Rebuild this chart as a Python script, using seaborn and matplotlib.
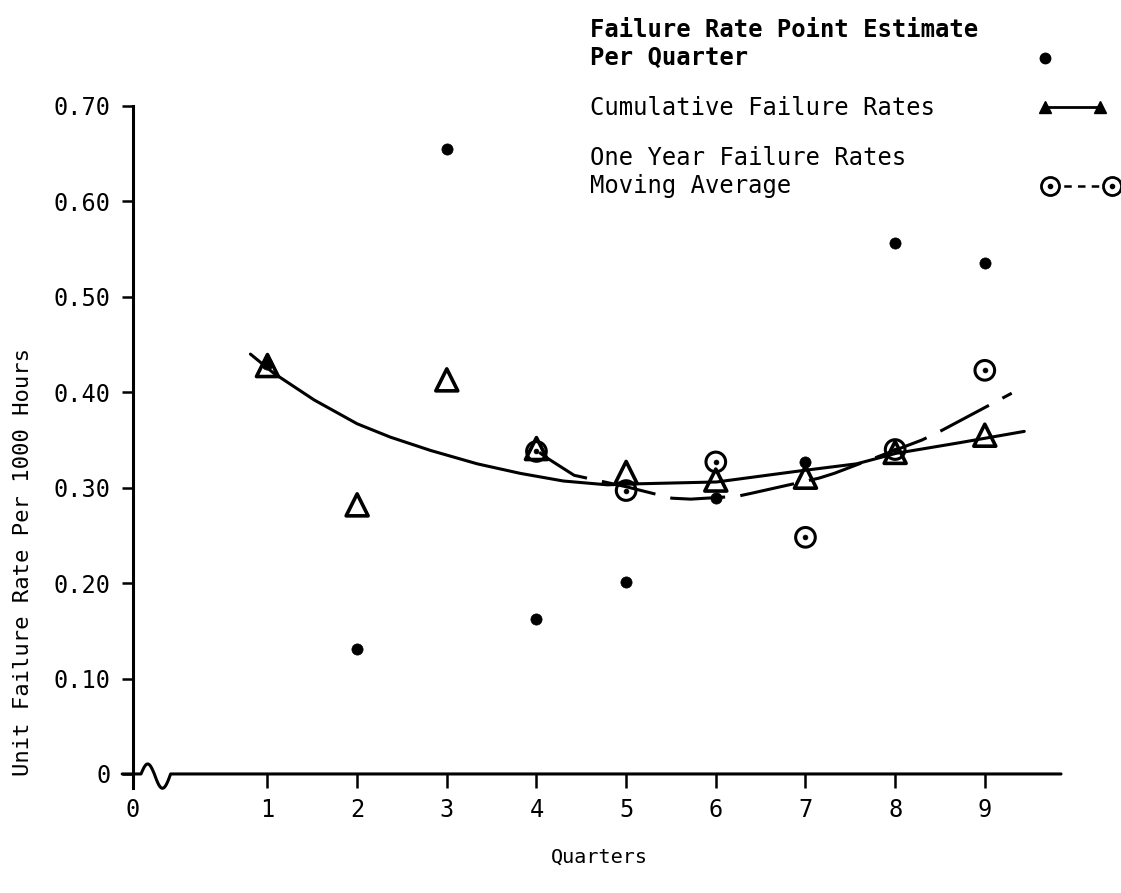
import numpy as np
import matplotlib
matplotlib.use("Agg")
import matplotlib.pyplot as plt
from matplotlib.lines import Line2D
import seaborn as sns

# ---------------- data ----------------
quarters = [1, 2, 3, 4, 5, 6, 7, 8, 9]
point_estimate = [0.430, 0.131, 0.655, 0.162, 0.201, 0.289, 0.327, 0.556, 0.535]
cumulative_rate = [0.428, 0.282, 0.413, 0.341, 0.316, 0.308, 0.311, 0.337, 0.355]

ma_quarters = [4, 5, 6, 7, 8, 9]
moving_average = [0.338, 0.297, 0.327, 0.248, 0.340, 0.423]

# hand-drawn trend curves (sampled along the drawn lines)
cum_fit_x = [0.81, 1.07, 1.52, 2.00, 2.37, 2.82, 3.34, 3.82, 4.30, 4.79, 5.10, 6.01, 6.89, 7.57, 8.01, 8.71, 9.44]
cum_fit_y = [0.440, 0.420, 0.392, 0.367, 0.353, 0.339, 0.325, 0.315, 0.307, 0.303, 0.304, 0.306, 0.317, 0.325, 0.336, 0.347, 0.359]

ma_fit_x = [4.03, 4.12, 4.42, 5.00, 5.51, 5.72, 6.24, 6.39, 7.15, 7.32, 8.30, 8.52, 9.30]
ma_fit_y = [0.337, 0.331, 0.313, 0.301, 0.289, 0.288, 0.291, 0.294, 0.310, 0.315, 0.350, 0.360, 0.399]

x_tick_pos = [-0.5, 1, 2, 3, 4, 5, 6, 7, 8, 9]
x_tick_labels = ["0", "1", "2", "3", "4", "5", "6", "7", "8", "9"]
y_ticks = [0, 0.10, 0.20, 0.30, 0.40, 0.50, 0.60, 0.70]
y_tick_labels = ["0", "0.10", "0.20", "0.30", "0.40", "0.50", "0.60", "0.70"]

legend_lines = ["Failure Rate Point Estimate", "Per Quarter",
                "Cumulative Failure Rates",
                "One Year Failure Rates", "Moving Average"]

# ---------------- style ----------------
sns.set_theme(style="white", rc={
    "text.color": "black", "axes.labelcolor": "black",
    "xtick.color": "black", "ytick.color": "black",
    "axes.edgecolor": "black",
})
plt.rcParams["font.family"] = ["DejaVu Sans Mono", "DejaVu Sans"]

fig = plt.figure(figsize=(11.21, 8.93), dpi=100)
ax = fig.add_axes([0.1186, 0.1333, 0.8279, 0.7480])

LW = 2.2

# trend curves
sns.lineplot(x=cum_fit_x, y=cum_fit_y, ax=ax, color="black", linewidth=LW,
             sort=False, estimator=None, zorder=2)
sns.lineplot(x=ma_fit_x, y=ma_fit_y, ax=ax, color="black", linewidth=LW,
             sort=False, estimator=None, zorder=2)
ax.lines[-1].set_dashes((18, 5))

# markers
sns.scatterplot(x=quarters, y=point_estimate, ax=ax, color="black",
                edgecolor="black", s=65, linewidth=0.5, zorder=4)
sns.scatterplot(x=quarters, y=cumulative_rate, ax=ax, marker="^", s=250,
                color="black", facecolor="none", edgecolor="black",
                linewidth=2.6, zorder=3)
sns.scatterplot(x=ma_quarters, y=moving_average, ax=ax, marker="o", s=200,
                color="black", facecolor="none", edgecolor="black",
                linewidth=2.2, zorder=3)
sns.scatterplot(x=ma_quarters, y=moving_average, ax=ax, marker="o", s=12,
                color="black", edgecolor="black", linewidth=0.5, zorder=3)

# ---------------- axes ----------------
ax.set_xlim(-0.5, 9.85)
ax.set_ylim(0, 0.70)
ax.set_xticks(x_tick_pos)
ax.set_xticklabels(x_tick_labels)
ax.set_yticks(y_ticks)
ax.set_yticklabels(y_tick_labels)
ax.tick_params(axis="x", bottom=True, direction="out", length=10, width=1.8,
               pad=7, labelsize=17)
ax.tick_params(axis="y", left=True, direction="out", length=8, width=1.8,
               pad=8, labelsize=17)
for s in ["top", "right", "bottom"]:
    ax.spines[s].set_visible(False)
ax.spines["left"].set_linewidth(LW)
ax.spines["left"].set_bounds(-0.015, 0.70)
ax.grid(False)

# x axis line with break symbol near the origin
t = np.linspace(0, 1, 40)
bx = -0.41 + t * 0.33
by = np.where(t < 0.45, 0.0105 * np.sin(np.pi * t / 0.45),
              -0.015 * np.sin(np.pi * (t - 0.45) / 0.55))
axis_x = np.concatenate([[-0.62], bx, [9.85]])
axis_y = np.concatenate([[0.0], by, [0.0]])
ax.plot(axis_x, axis_y, color="black", lw=LW, clip_on=False, zorder=5)

ax.set_xlabel("Quarters", fontsize=14.5)
ax.set_ylabel("Unit Failure Rate Per 1000 Hours", fontsize=16)
ax.xaxis.set_label_coords(0.503, -0.110)
ax.yaxis.set_label_coords(-0.108, 0.318)

# ---------------- legend (drawn as in the original) ----------------
tx = 0.526
baselines = [0.9586, 0.9272, 0.8712, 0.8152, 0.7839]
weights = ["bold", "bold", "normal", "normal", "normal"]
for txt, yb, w in zip(legend_lines, baselines, weights):
    fig.text(tx, yb, txt, fontsize=17.2, fontweight=w, va="baseline", ha="left")

fig.add_artist(Line2D([0.9322], [0.9350], transform=fig.transFigure,
                      marker="o", ms=7.5, color="black", lw=0))
fig.add_artist(Line2D([0.9322, 0.9813], [0.8802, 0.8802], transform=fig.transFigure,
                      color="black", lw=2, marker="^", ms=9))
fig.add_artist(Line2D([0.9367, 0.9920], [0.7917, 0.7917], transform=fig.transFigure,
                      color="black", lw=1.8, linestyle=(0, (3, 2.5)), marker="o",
                      ms=13, mfc="white", mew=2))
fig.add_artist(Line2D([0.9367, 0.9920], [0.7917, 0.7917], transform=fig.transFigure,
                      color="black", lw=0, marker="o", ms=3))

fig.savefig("out.png", dpi=100, facecolor="white")
